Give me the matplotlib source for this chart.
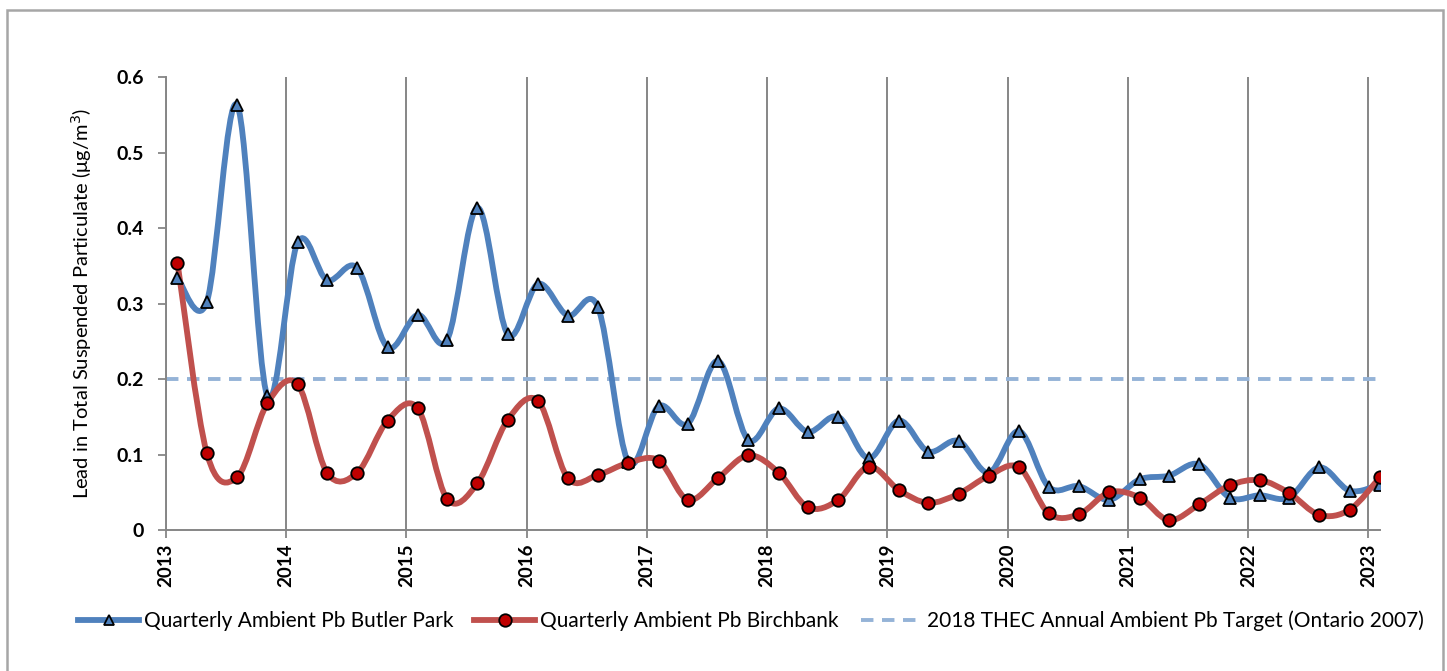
import matplotlib
matplotlib.use("Agg")
import matplotlib.pyplot as plt
import matplotlib.dates as mdates
from matplotlib.lines import Line2D
from matplotlib.patches import PathPatch, Rectangle
from matplotlib.path import Path
import numpy as np
import pandas as pd

# sampling dates: one per quarter, early Feb / May / Aug / Nov
sample_dates = pd.date_range("2013-02-01", "2023-02-01", freq="QS-FEB") + pd.Timedelta(days=4)

butler_park = [
    0.334, 0.302, 0.563, 0.177, 0.381, 0.331, 0.347, 0.242, 0.285, 0.252,
    0.427, 0.259, 0.326, 0.284, 0.295, 0.090, 0.164, 0.141, 0.224, 0.119,
    0.161, 0.130, 0.150, 0.095, 0.145, 0.104, 0.118, 0.076, 0.131, 0.057,
    0.058, 0.040, 0.067, 0.072, 0.087, 0.043, 0.046, 0.043, 0.083, 0.052,
    0.060,
]
birchbank = [
    0.354, 0.102, 0.070, 0.168, 0.193, 0.076, 0.076, 0.145, 0.161, 0.041,
    0.062, 0.146, 0.171, 0.069, 0.073, 0.089, 0.092, 0.040, 0.069, 0.099,
    0.076, 0.030, 0.040, 0.084, 0.053, 0.036, 0.048, 0.072, 0.083, 0.022,
    0.021, 0.050, 0.043, 0.013, 0.034, 0.059, 0.066, 0.049, 0.020, 0.027,
    0.070,
]
target_value = 0.2
year_ticks = list(range(2013, 2024))
legend_labels = [
    "Quarterly Ambient Pb Butler Park",
    "Quarterly Ambient Pb Birchbank",
    "2018 THEC Annual Ambient Pb Target (Ontario 2007)",
]

BLUE = "#4F81BD"
RED = "#C0504D"
TARGET = "#95B3D7"
FONT = ["Lato", "DejaVu Sans"]

plt.rcParams["font.family"] = FONT


def smooth_path(x, y):
    # Excel-style smoothed line: cubic Bezier through every point
    pts = np.column_stack([x, y])
    verts = [pts[0]]
    codes = [Path.MOVETO]
    n = len(pts)
    for i in range(n - 1):
        p0 = pts[i - 1] if i > 0 else pts[i]
        p1, p2 = pts[i], pts[i + 1]
        p3 = pts[i + 2] if i + 2 < n else pts[i + 1]
        verts += [p1 + (p2 - p0) / 6.0, p2 - (p3 - p1) / 6.0, p2]
        codes += [Path.CURVE4] * 3
    return Path(verts, codes)


fig = plt.figure(figsize=(14.47, 6.71), dpi=100)
ax = fig.add_axes([0.1147, 0.2101, 0.839, 0.6751])

x_num = mdates.date2num(sample_dates.to_pydatetime())
x_lo = mdates.date2num(pd.Timestamp("2013-01-01"))
x_hi = x_num[-1]
year_pos = [mdates.date2num(pd.Timestamp(f"{x}-01-01")) for x in year_ticks]

for pos in year_pos:
    ax.axvline(pos, color="#868686", linewidth=1.4, zorder=0)

ax.plot([x_lo, x_hi], [target_value, target_value], color=TARGET, linewidth=2.8,
        dashes=(3.2, 2.2), zorder=1)

series = [
    (butler_park, BLUE, "^", BLUE, 8.5),
    (birchbank, RED, "o", "#C00000", 9.0),
]
for values, color, marker, face, msize in series:
    ax.add_patch(PathPatch(smooth_path(x_num, np.array(values)), fill=False,
                           edgecolor=color, linewidth=4.2, zorder=2,
                           capstyle="round", joinstyle="round"))
for values, color, marker, face, msize in series:
    ax.plot(x_num, values, linestyle="none", marker=marker, markersize=msize,
            markerfacecolor=face, markeredgecolor="black", markeredgewidth=1.3,
            zorder=3)

ax.set_xlim(x_lo, x_hi)
ax.set_ylim(0, 0.6)
ax.set_yticks([0, 0.1, 0.2, 0.3, 0.4, 0.5, 0.6])
ax.set_yticklabels(["0", "0.1", "0.2", "0.3", "0.4", "0.5", "0.6"],
                   fontsize=14, fontweight="bold")
ax.set_xticks(year_pos)
ax.set_xticklabels([str(x) for x in year_ticks], rotation=90, fontsize=13.5,
                   fontweight="bold")
ax.tick_params(axis="both", direction="out", length=6, width=1.3, color="#868686")
ax.tick_params(axis="y", pad=10)
ax.tick_params(axis="x", pad=4)
for side in ["top", "right"]:
    ax.spines[side].set_visible(False)
for side in ["left", "bottom"]:
    ax.spines[side].set_color("#868686")
    ax.spines[side].set_linewidth(1.4)

ax.set_ylabel("Lead in Total Suspended Particulate (\u03bcg/m$^3$)", fontsize=14.5,
              labelpad=16)

handles = [
    Line2D([], [], color=BLUE, linewidth=4.2, marker="^", markersize=6.5,
           markerfacecolor=BLUE, markeredgecolor="black", markeredgewidth=1.3),
    Line2D([], [], color=RED, linewidth=4.2, marker="o", markersize=9.0,
           markerfacecolor="#C00000", markeredgecolor="black", markeredgewidth=1.3),
    Line2D([], [], color=TARGET, linewidth=2.8, dashes=(3.2, 2.2)),
]
# left edge of each legend entry's handle, in pixels
legend_starts = [78, 474, 861]
for handle, label, x0 in zip(handles, legend_labels, legend_starts):
    leg = fig.legend([handle], [label], loc="center left",
                     bbox_to_anchor=(x0 / 1447, 1 - 621 / 671), frameon=False,
                     fontsize=15, handlelength=2.95, handletextpad=0.2,
                     borderpad=0, borderaxespad=0)

fig.patches.append(Rectangle((7 / 1447, -0.05), 1436 / 1447, 1.05 - 10 / 671,
                             transform=fig.transFigure, fill=False,
                             edgecolor="#A6A6A6", linewidth=1.8))

fig.savefig("out.png", dpi=100)
